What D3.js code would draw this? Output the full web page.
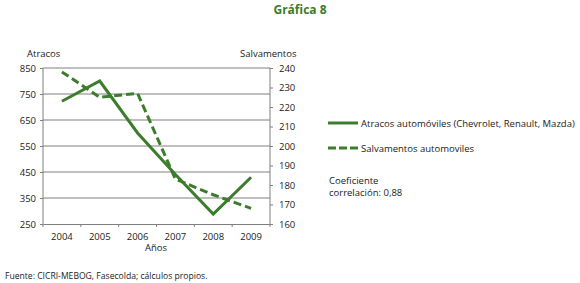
<!DOCTYPE html>
<html>
<head>
<meta charset="utf-8">
<script src="https://cdn.jsdelivr.net/npm/d3@7"></script>
<style>
  body { margin: 0; background: white; }
  svg { display: block; font-family: "Open Sans", sans-serif; }
</style>
</head>
<body>
<svg id="chart" width="580" height="283"></svg>
<script>
const years = ["2004", "2005", "2006", "2007", "2008", "2009"];
const atracos = [722, 800, 600, 440, 288, 430];
const salvamentos = [238, 225, 227, 183, 175, 168];
const leftTicks = [250, 350, 450, 550, 650, 750, 850];
const rightTicks = [160, 170, 180, 190, 200, 210, 220, 230, 240];

const green = "#3b7d2c";
const svg = d3.select("#chart");

const margin = { left: 43, right: 310, top: 68, bottom: 59 };
const width = 580, height = 283;

const x = d3.scaleBand().domain(years).range([margin.left, width - margin.right]);
const yL = d3.scaleLinear().domain([250, 850]).range([height - margin.bottom, margin.top]);
const yR = d3.scaleLinear().domain([160, 240]).range([height - margin.bottom, margin.top]);

// title
svg.append("text")
    .attr("x", 300).attr("y", 14)
    .attr("text-anchor", "middle")
    .attr("font-weight", "bold")
    .attr("font-size", 12)
    .attr("fill", green)
    .text("Gráfica 8");

// gridlines
svg.append("g").selectAll("line")
    .data(leftTicks.slice(1))
    .enter().append("line")
    .attr("x1", margin.left).attr("x2", width - margin.right)
    .attr("y1", d => yL(d)).attr("y2", d => yL(d))
    .attr("stroke", "#7f7f7f").attr("stroke-width", 1);

// left axis
const gl = svg.append("g")
    .attr("transform", `translate(${margin.left},0)`)
    .call(d3.axisLeft(yL).tickValues(leftTicks).tickSize(3).tickPadding(4));
// right axis
const gr = svg.append("g")
    .attr("transform", `translate(${width - margin.right},0)`)
    .call(d3.axisRight(yR).tickValues(rightTicks).tickSize(3).tickPadding(6));
// x axis
const gx = svg.append("g")
    .attr("transform", `translate(0,${height - margin.bottom})`)
    .call(d3.axisBottom(x).tickSize(0).tickPadding(9));
gx.selectAll(".tick line").remove();
gx.append("g").selectAll("line")
    .data(years.slice(1))
    .enter().append("line")
    .attr("x1", d => x(d)).attr("x2", d => x(d))
    .attr("y1", 0).attr("y2", 3)
    .attr("stroke", "#7f7f7f");

[gl, gr, gx].forEach(g => {
    g.select(".domain").attr("stroke", "#7f7f7f");
    g.selectAll(".tick line").attr("stroke", "#7f7f7f");
    g.selectAll("text").attr("font-size", 9.5).attr("fill", "#222").attr("font-family", "Open Sans");
});
gl.select(".domain").attr("d", `M0,${yL(850)}V${yL(250) + 3}`);
gr.select(".domain").attr("d", `M0,${yR(240)}V${yR(160) + 3}`);

// axis titles
svg.append("text").attr("x", 27).attr("y", 57).attr("font-size", 9.5).attr("fill", "#222").text("Atracos");
svg.append("text").attr("x", 240).attr("y", 57).attr("font-size", 9.5).attr("fill", "#222").text("Salvamentos");
svg.append("text").attr("x", 156).attr("y", 251).attr("text-anchor", "middle").attr("font-size", 9.5).attr("fill", "#222").text("Años");

// lines
const lineL = d3.line().x((d, i) => x(years[i]) + x.bandwidth() / 2).y(d => yL(d));
const lineR = d3.line().x((d, i) => x(years[i]) + x.bandwidth() / 2).y(d => yR(d));

svg.append("path").datum(salvamentos)
    .attr("d", lineR).attr("fill", "none")
    .attr("stroke", green).attr("stroke-width", 3)
    .attr("stroke-dasharray", "8,4");
svg.append("path").datum(atracos)
    .attr("d", lineL).attr("fill", "none")
    .attr("stroke", green).attr("stroke-width", 3);

// legend
const legend = svg.append("g");
legend.append("line").attr("x1", 328).attr("x2", 358).attr("y1", 123).attr("y2", 123)
    .attr("stroke", green).attr("stroke-width", 3);
legend.append("text").attr("x", 361).attr("y", 126.5).attr("font-size", 9.5).attr("fill", "#222")
    .text("Atracos automóviles (Chevrolet, Renault, Mazda)");
legend.append("line").attr("x1", 328).attr("x2", 358).attr("y1", 148).attr("y2", 148)
    .attr("stroke", green).attr("stroke-width", 3).attr("stroke-dasharray", "8,3");
legend.append("text").attr("x", 361).attr("y", 151.5).attr("font-size", 9.5).attr("fill", "#222")
    .text("Salvamentos automoviles");
legend.append("text").attr("x", 329).attr("y", 184).attr("font-size", 9.5).attr("fill", "#222")
    .text("Coeficiente");
legend.append("text").attr("x", 329).attr("y", 196).attr("font-size", 9.5).attr("fill", "#222")
    .text("correlación: 0,88");

// source
svg.append("text").attr("x", 5).attr("y", 279).attr("font-size", 8.6).attr("fill", "#222")
    .text("Fuente: CICRI-MEBOG, Fasecolda; cálculos propios.");
</script>
</body>
</html>
